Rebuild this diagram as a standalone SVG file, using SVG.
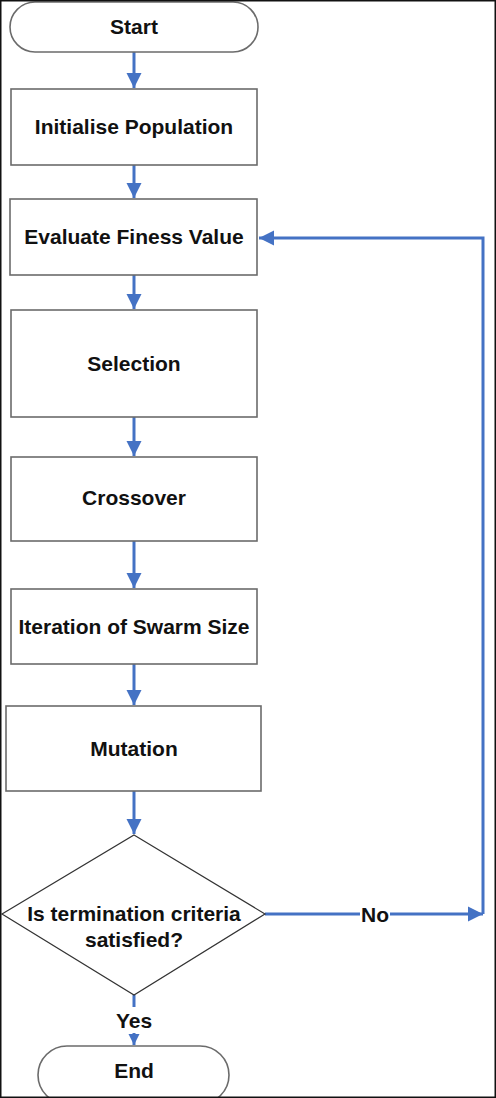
<svg xmlns="http://www.w3.org/2000/svg" width="496" height="1098" viewBox="0 0 496 1098">
<style>
.box{fill:#fff;stroke:#6b6b6b;stroke-width:1.6}
.dia{fill:#fff;stroke:#333;stroke-width:1.2}
.lbl{font-family:"Liberation Sans",Arial,sans-serif;font-weight:bold;font-size:21px;fill:#111;text-anchor:middle;dominant-baseline:central}
.con{fill:none;stroke:#4472C4;stroke-width:3}
</style>
<defs>
<marker id="ah" markerUnits="userSpaceOnUse" markerWidth="16" markerHeight="16" viewBox="0 0 16 16" refX="15" refY="8" orient="auto">
<path d="M0,0.5 L15,8 L0,15.5 Z" fill="#4472C4"/>
</marker>
<marker id="ahs" markerUnits="userSpaceOnUse" markerWidth="12" markerHeight="12" viewBox="0 0 12 12" refX="11" refY="6" orient="auto">
<path d="M0,0.5 L11,6 L0,11.5 Z" fill="#4472C4"/>
</marker>
</defs>
<rect x="0" y="0" width="496" height="1098" fill="#fff"/>
<g id="connectors">
<line class="con" x1="134" y1="52" x2="134" y2="88" marker-end="url(#ah)"/>
<line class="con" x1="134" y1="165" x2="134" y2="198" marker-end="url(#ah)"/>
<line class="con" x1="134" y1="275" x2="134" y2="309" marker-end="url(#ah)"/>
<line class="con" x1="134" y1="417" x2="134" y2="456" marker-end="url(#ah)"/>
<line class="con" x1="134" y1="541" x2="134" y2="588" marker-end="url(#ah)"/>
<line class="con" x1="134" y1="664" x2="134" y2="705" marker-end="url(#ah)"/>
<line class="con" x1="134" y1="791" x2="134" y2="834" marker-end="url(#ah)"/>
<line class="con" x1="265" y1="914" x2="483" y2="914" marker-end="url(#ah)"/>
<polyline class="con" points="483,914 483,238 259,238" marker-end="url(#ah)"/>
<line class="con" x1="134" y1="995" x2="134" y2="1007"/>
<line class="con" x1="134" y1="1033" x2="134" y2="1045" marker-end="url(#ahs)"/>
<rect x="360" y="903" width="30" height="22" fill="#fff"/>
<text class="lbl" x="375" y="914">No</text>
<text class="lbl" x="134" y="1020">Yes</text>
</g>
<g id="start">
<rect class="box" x="10" y="2" width="248" height="50" rx="25"/>
<text class="lbl" x="134" y="26">Start</text>
</g>
<g id="init">
<rect class="box" x="11" y="89" width="246" height="76"/>
<text class="lbl" x="134" y="126">Initialise Population</text>
</g>
<g id="evaluate">
<rect class="box" x="10" y="199" width="247" height="76"/>
<text class="lbl" x="134" y="236">Evaluate Finess Value</text>
</g>
<g id="selection">
<rect class="box" x="11" y="310" width="246" height="107"/>
<text class="lbl" x="134" y="363">Selection</text>
</g>
<g id="crossover">
<rect class="box" x="11" y="457" width="246" height="84"/>
<text class="lbl" x="134" y="497">Crossover</text>
</g>
<g id="iteration">
<rect class="box" x="11" y="589" width="246" height="75"/>
<text class="lbl" x="134" y="626">Iteration of Swarm Size</text>
</g>
<g id="mutation">
<rect class="box" x="6" y="706" width="255" height="85"/>
<text class="lbl" x="134" y="748">Mutation</text>
</g>
<g id="decision">
<polygon class="dia" points="134,835 265,914 134,995 2,914"/>
<text class="lbl" x="134" y="913">Is termination criteria</text>
<text class="lbl" x="134" y="939">satisfied?</text>
</g>
<g id="end">
<rect class="box" x="38" y="1046" width="191" height="58" rx="29"/>
<text class="lbl" x="134" y="1070">End</text>
</g>
<rect x="0.75" y="0.75" width="494.5" height="1096.5" fill="none" stroke="#111" stroke-width="1.5"/>
</svg>
